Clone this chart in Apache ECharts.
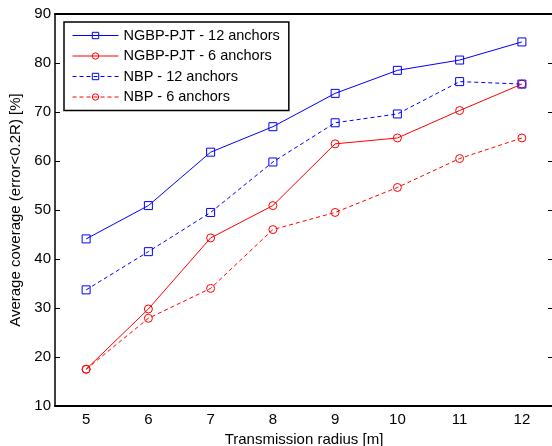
<!DOCTYPE html>
<html><head><meta charset="utf-8">
<script src="https://cdn.jsdelivr.net/npm/echarts@6/dist/echarts.min.js"></script>
<style>html,body{margin:0;padding:0;background:#fff}#c{width:552px;height:446px}</style>
</head><body><div id="c"></div>
<script>
const categories = ['5','6','7','8','9','10','11','12'];
const ngbp12 = [44.1, 50.9, 61.8, 67.0, 73.8, 78.5, 80.6, 84.3];
const ngbp6  = [17.5, 29.8, 44.3, 50.9, 63.5, 64.7, 70.3, 75.7];
const nbp12  = [33.7, 41.5, 49.5, 59.8, 67.8, 69.6, 76.2, 75.7];
const nbp6   = [17.5, 27.9, 34.0, 46.0, 49.5, 54.6, 60.5, 64.7];
const seriesNames = ['NGBP-PJT - 12 anchors','NGBP-PJT - 6 anchors','NBP - 12 anchors','NBP - 6 anchors'];
const yTicks = {min:10, max:90, interval:10};

const FONT = 'Liberation Sans, Arial, sans-serif';
const chart = echarts.init(document.getElementById('c'), null, {renderer:'canvas'});
function mk(name, data, color, dashed, sym){
  return {
    name, type:'line', data, symbol: sym, symbolSize: 8,
    lineStyle:{color, width:1, type: dashed?[4,3]:'solid'},
    itemStyle:{color:'rgba(255,255,255,0)', borderColor:color, borderWidth:1},
    emphasis:{disabled:true}, animation:false, showAllSymbol:true
  };
}
chart.setOption({
  animation:false,
  backgroundColor:'#fff',
  textStyle:{fontFamily:FONT},
  grid:{left:55, top:14, bottom:40, width:498, containLabel:false, outerBoundsMode:'none'},
  legend:{
    orient:'vertical', left:64, top:22, itemWidth:46, itemHeight:8, itemGap:5.5,
    padding:[6,9,6,8], borderColor:'#000', borderWidth:1.5, backgroundColor:'#fff',
    textStyle:{fontFamily:FONT, fontSize:14.5, color:'#000'},
    lineStyle:{width:1}, itemStyle:{borderWidth:1},
    data: seriesNames
  },
  xAxis:[{
    type:'category', data:categories, boundaryGap:true,
    name:'Transmission radius [m]', nameLocation:'middle', nameGap:24.5,
    nameTextStyle:{fontFamily:FONT, fontSize:15, color:'#000'},
    axisLine:{lineStyle:{color:'#000', width:2}},
    axisTick:{alignWithLabel:true, inside:true, length:5, lineStyle:{color:'#000'}},
    axisLabel:{fontFamily:FONT, fontSize:15, color:'#000', margin:6},
    splitLine:{show:false}
  },{
    type:'category', data:categories, boundaryGap:true, position:'top',
    axisLine:{lineStyle:{color:'#000', width:2}},
    axisTick:{alignWithLabel:true, inside:true, length:5, lineStyle:{color:'#000'}},
    axisLabel:{show:false}, splitLine:{show:false}
  }],
  yAxis:[{
    type:'value', min:yTicks.min, max:yTicks.max, interval:yTicks.interval,
    name:'Average coverage (error<0.2R) [%]', nameLocation:'middle', nameGap:24,
    nameTextStyle:{fontFamily:FONT, fontSize:15, color:'#000'},
    axisLine:{show:true, lineStyle:{color:'#000', width:1.5}},
    axisTick:{show:true, inside:true, length:5, lineStyle:{color:'#000'}},
    axisLabel:{fontFamily:FONT, fontSize:15, color:'#000', margin:4},
    splitLine:{show:false}
  },{
    type:'value', min:yTicks.min, max:yTicks.max, interval:yTicks.interval, position:'right',
    axisLine:{show:true, lineStyle:{color:'#000', width:1.5}},
    axisTick:{show:true, inside:true, length:5, lineStyle:{color:'#000'}},
    axisLabel:{show:false}, splitLine:{show:false}
  }],
  series:[
    mk(seriesNames[0], ngbp12, '#0000ff', false, 'rect'),
    mk(seriesNames[1], ngbp6, '#ff0000', false, 'circle'),
    mk(seriesNames[2], nbp12, '#0000ff', true, 'rect'),
    mk(seriesNames[3], nbp6, '#ff0000', true, 'circle')
  ]
});
</script></body></html>
